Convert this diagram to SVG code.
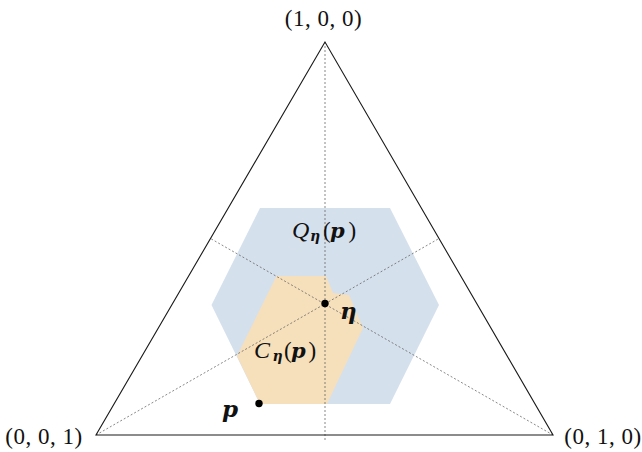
<svg xmlns="http://www.w3.org/2000/svg" width="642" height="452" viewBox="0 0 642 452">
<style>
.tri{fill:none;stroke:#1a1a1a;stroke-width:1.1;stroke-linejoin:miter}
.dash{fill:none;stroke:#555;stroke-width:0.7;stroke-dasharray:2 2}
.coord{font-family:"Liberation Serif","DejaVu Serif",serif;font-size:23px;letter-spacing:0.5px;fill:#111;text-anchor:middle}
.m{font-family:"Liberation Serif","DejaVu Serif",serif;font-size:23px;fill:#111}
.it{font-style:italic}
.bi{font-family:"DejaVu Serif","Liberation Serif",serif;font-style:italic;font-weight:bold}
.dot{fill:#000}
</style>
<rect width="642" height="452" fill="#fff"/>
<g id="region-Q">
<polygon points="260,208 390,208 439,305 390,404 260,404 211.5,305" fill="#d5e0ed"/>
</g>
<g id="region-C">
<polygon points="276.5,276 326,276 333,293 349,295 363,328 327,404 260,404 237,356" fill="#f6dfbb"/>
</g>
<g id="connectors">
<line class="dash" x1="325" y1="42" x2="325" y2="441"/>
<line class="dash" x1="96" y1="435" x2="439" y2="238.5"/>
<line class="dash" x1="553" y1="435" x2="210.5" y2="238.5"/>
</g>
<g id="triangle">
<polygon class="tri" points="325,42 96,435 553,435"/>
</g>
<g id="vertex-100"><text class="coord" x="323.5" y="26">(1, 0, 0)</text></g>
<g id="vertex-001"><text class="coord" x="44" y="444">(0, 0, 1)</text></g>
<g id="vertex-010"><text class="coord" x="603" y="444">(0, 1, 0)</text></g>
<g id="label-Q">
<text class="m" y="237.5"><tspan class="it" x="292" font-size="24">Q</tspan><tspan class="bi" x="310" y="241" font-size="14">η</tspan><tspan x="323" y="237.5">(</tspan><tspan class="bi" x="330" font-size="21">p</tspan><tspan x="348.5">)</tspan></text>
</g>
<g id="label-C">
<text class="m" y="357.5"><tspan class="it" x="254" font-size="24">C</tspan><tspan class="bi" x="272.5" y="361" font-size="14">η</tspan><tspan x="284" y="357.5">(</tspan><tspan class="bi" x="291" font-size="21">p</tspan><tspan x="308.5">)</tspan></text>
</g>
<g id="node-eta">
<circle class="dot" cx="325" cy="303.5" r="3.7"/>
<text class="m bi" x="340" y="319" font-size="22">η</text>
</g>
<g id="node-p">
<circle class="dot" cx="259" cy="403.5" r="3.7"/>
<text class="m bi" x="222" y="416.5">p</text>
</g>
</svg>
